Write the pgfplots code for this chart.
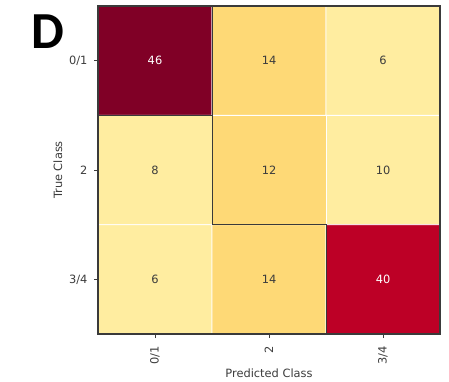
\documentclass[border=0pt]{standalone}
\usepackage{fontspec}
\setmainfont{DejaVu Sans}
\newfontfamily\panelfont{Carlito}
\usepackage{pgfplots}
\pgfplotsset{compat=1.18}
\definecolor{txt}{HTML}{3C3C3C}
\definecolor{edge}{HTML}{3A3A3A}

% confusion matrix counts: x = predicted, y = true
\pgfplotstableread{
x y c
0 0 46
1 0 14
2 0 6
0 1 8
1 1 12
2 1 10
0 2 6
1 2 14
2 2 40
}\cmdata

\begin{document}
\begin{tikzpicture}
\useasboundingbox (0,0) rectangle (449pt,381pt);
\node[anchor=north west, inner sep=0pt,
      font=\panelfont\bfseries\fontsize{52}{52}\selectfont] at (31pt,366pt) {D};
\begin{axis}[
  at={(98pt,47pt)}, anchor=south west,
  scale only axis, width=342pt, height=328pt,
  xmin=-0.5, xmax=2.5, ymin=-0.5, ymax=2.5, y dir=reverse,
  xtick={0,1,2}, ytick={0,1,2},
  xticklabels={0/1,2,3/4}, yticklabels={0/1,2,3/4},
  x tick label style={rotate=90, anchor=east},
  xticklabel shift=5pt, yticklabel shift=3pt,
  tick align=outside, xtick pos=lower, ytick pos=left,
  major tick length=4pt,
  tick style={color=txt, line width=0.8pt},
  axis line style={color=edge, line width=1.1pt},
  tick label style={font=\fontsize{11.4}{13}\selectfont, text=txt},
  label style={font=\fontsize{11.4}{13}\selectfont, text=txt},
  xlabel={Predicted Class}, ylabel={True Class},
  xlabel style={yshift=3pt},
  ylabel style={yshift=0pt},
  colormap={ylorrd}{
    rgb255(0pt)=(255,237,160) rgb255(110pt)=(255,237,160)
    rgb255(111pt)=(254,217,118) rgb255(300pt)=(254,217,118)
    rgb255(301pt)=(189,0,38) rgb255(430pt)=(189,0,38)
    rgb255(431pt)=(128,0,38) rgb255(460pt)=(128,0,38)},
  point meta min=0, point meta max=46,
  axis on top,
]
\addplot[matrix plot*, mesh/cols=3, point meta=explicit,
         draw=white, line width=0.8pt]
  table[x=x, y=y, meta=c] {\cmdata};

% highlighted diagonal borders
\draw[edge, line width=1pt]
  (axis cs:-0.5,0.5) -- (axis cs:0.5,0.5) -- (axis cs:0.5,-0.5);
\draw[edge, line width=1pt]
  (axis cs:0.5,0.5) -- (axis cs:0.5,1.5) -- (axis cs:1.5,1.5) -- (axis cs:1.5,2.5);

% cell counts
\addplot[only marks, mark=none, nodes near coords, point meta=explicit symbolic,
         nodes near coords align=center,
         every node near coord/.append style={font=\fontsize{11.4}{13}\selectfont, text=txt}]
  table[x=x, y=y, meta=c] {
x y c
1 0 14
2 0 6
0 1 8
1 1 12
2 1 10
0 2 6
1 2 14
};
\addplot[only marks, mark=none, nodes near coords, point meta=explicit symbolic,
         nodes near coords align=center,
         every node near coord/.append style={font=\fontsize{11.4}{13}\selectfont, text=white}]
  table[x=x, y=y, meta=c] {
x y c
0 0 46
2 2 40
};
\end{axis}
\end{tikzpicture}
\end{document}
